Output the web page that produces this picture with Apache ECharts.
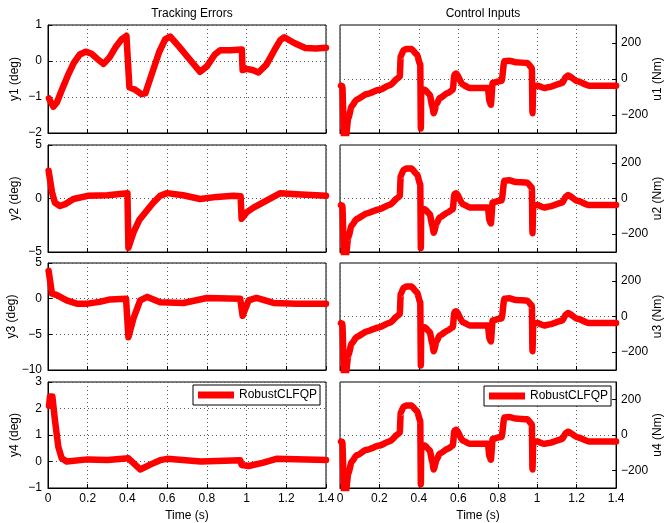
<!DOCTYPE html>
<html>
<head>
<meta charset="utf-8">
<script src="https://cdn.jsdelivr.net/npm/echarts@6/dist/echarts.min.js"></script>
<style>
  html, body { margin: 0; background: #fff; }
  #main { width: 665px; height: 523px; }
</style>
</head>
<body>
<div id="main"></div>
<script>
// tracking errors (deg)
const tY1 = [0.005, 0.027, 0.045, 0.07, 0.1, 0.13, 0.16, 0.19, 0.22, 0.25, 0.28, 0.31, 0.34, 0.37, 0.395, 0.405, 0.41, 0.44, 0.47, 0.49, 0.52, 0.56, 0.59, 0.615, 0.66, 0.72, 0.766, 0.8, 0.84, 0.867, 0.92, 0.976, 0.98, 1.0, 1.03, 1.06, 1.1, 1.14, 1.17, 1.19, 1.24, 1.296, 1.35, 1.4];
const y1 = [-1.04, -1.27, -1.15, -0.8, -0.4, -0.05, 0.18, 0.26, 0.2, 0.05, -0.08, 0.1, 0.38, 0.6, 0.7, 0.72, -0.73, -0.8, -0.92, -0.9, -0.4, 0.25, 0.6, 0.68, 0.4, 0.0, -0.3, -0.15, 0.18, 0.3, 0.3, 0.32, -0.25, -0.22, -0.25, -0.32, -0.1, 0.3, 0.58, 0.66, 0.5, 0.36, 0.35, 0.37];

const tY2 = [0.003, 0.02, 0.035, 0.06, 0.09, 0.128, 0.2, 0.3, 0.4, 0.405, 0.43, 0.46, 0.497, 0.53, 0.565, 0.6, 0.68, 0.766, 0.85, 0.934, 0.97, 0.975, 1.0, 1.035, 1.1, 1.17, 1.25, 1.4];
const y2 = [2.6, 0.6, -0.4, -0.7, -0.5, -0.05, 0.25, 0.3, 0.5, -4.6, -3.2, -2.0, -1.15, -0.4, 0.25, 0.5, 0.3, -0.05, 0.15, 0.25, 0.2, -1.9, -1.3, -0.85, -0.2, 0.5, 0.4, 0.25];

const tY3 = [0.003, 0.01, 0.02, 0.04, 0.094, 0.145, 0.2, 0.26, 0.313, 0.393, 0.405, 0.41, 0.43, 0.464, 0.5, 0.565, 0.682, 0.8, 0.968, 0.98, 1.01, 1.05, 1.136, 1.25, 1.4];
const y3 = [3.9, 2.6, 0.7, 0.55, -0.25, -0.7, -0.7, -0.45, -0.1, 0, -5.4, -5.6, -2.8, -0.25, 0.25, -0.5, -0.6, 0.1, 0, -2.4, -0.25, 0.1, -0.6, -0.7, -0.7];

const tY4 = [0.005, 0.01, 0.022, 0.035, 0.052, 0.069, 0.094, 0.2, 0.3, 0.405, 0.464, 0.52, 0.565, 0.6, 0.77, 0.968, 0.975, 1.01, 1.08, 1.15, 1.4];
const y4 = [2.1, 2.45, 2.45, 1.55, 0.55, 0.12, 0, 0.08, 0.06, 0.12, -0.3, -0.1, 0.05, 0.1, 0, 0.05, -0.13, -0.17, -0.05, 0.1, 0.06];

// control inputs (Nm)
const tU = [0.005, 0.012, 0.02, 0.03, 0.042, 0.059, 0.084, 0.135, 0.2, 0.252, 0.295, 0.303, 0.308, 0.322, 0.337, 0.362, 0.39, 0.407, 0.41, 0.412, 0.43, 0.455, 0.468, 0.475, 0.49, 0.505, 0.547, 0.572, 0.58, 0.589, 0.623, 0.657, 0.75, 0.758, 0.765, 0.774, 0.808, 0.82, 0.833, 0.859, 0.89, 0.95, 0.973, 0.976, 0.98, 1.0, 1.035, 1.06, 1.128, 1.145, 1.157, 1.204, 1.263, 1.4];
const u1 = [-37, -40, -320, -320, -218, -152, -115, -84, -60, -35, 5, 15, 126, 160, 167, 167, 136, 80, -275, -60, -60, -87, -150, -190, -140, -106, -78, -60, 24, 30, -32, -50, -50, -125, -143, -22, -13, -10, 99, 102, 93, 89, 61, -190, -40, -37, -50, -45, -22, 11, 19, -13, -37, -37];
const u2 = [-37, -40, -320, -320, -218, -152, -115, -84, -60, -35, 5, 15, 126, 160, 168, 168, 136, 80, -278, -60, -60, -87, -150, -192, -140, -106, -78, -60, 24, 30, -32, -50, -50, -125, -140, -22, -13, -10, 99, 102, 93, 89, 61, -195, -40, -37, -50, -45, -22, 11, 19, -13, -37, -37];
const u3 = [-37, -40, -320, -320, -218, -152, -115, -84, -60, -35, 5, 15, 126, 160, 168, 168, 136, 80, -275, -60, -60, -87, -150, -195, -140, -106, -78, -60, 24, 30, -32, -50, -50, -125, -140, -22, -13, -10, 99, 102, 93, 89, 61, -195, -40, -37, -50, -45, -22, 11, 19, -13, -37, -37];
const u4 = [-37, -40, -320, -320, -218, -152, -115, -84, -60, -35, 5, 15, 126, 160, 167, 167, 136, 80, -280, -60, -60, -87, -150, -195, -140, -106, -78, -60, 24, 30, -32, -50, -50, -125, -140, -22, -13, -10, 99, 102, 93, 89, 61, -195, -40, -37, -50, -45, -22, 11, 19, -13, -37, -37];

const timeTicks = { min: 0, max: 1.4, interval: 0.2 };
const yRanges = [[-2, 1, 1], [-5, 5, 5], [-10, 5, 5], [-1, 3, 1]];
const uTickValues = [-200, 0, 200];

const font = 'Liberation Sans, Arial, Helvetica, sans-serif';
const fs = 12;
const minus = v => String(v).replace('-', '\u2212');
const zip = (t, v) => t.map((x, i) => [x, v[i]]);

const rowTops = [25, 145, 263, 382];
const rowHeights = [108, 107, 107, 106];

let grid = [], xAxis = [], yAxis = [], series = [];
const ySeries = [[tY1, y1], [tY2, y2], [tY3, y3], [tY4, y4]];
const uSeries = [u1, u2, u3, u4];

const lineStyle = { color: '#ff0000', width: 6.5, cap: 'round', join: 'round' };
const gridLine = { show: true, lineStyle: { color: '#555', type: [1, 3], width: 1 } };

for (let r = 0; r < 4; r++) {
  const bottomRow = r === 3;
  for (let c = 0; c < 2; c++) {
    const idx = r * 2 + c;
    grid.push({
      left: c === 0 ? 48 : 340,
      width: c === 0 ? 278 : 277,
      top: rowTops[r],
      height: rowHeights[r],
      show: true,
      borderColor: '#000',
      borderWidth: 1,
      backgroundColor: '#fff'
    });
    xAxis.push({
      type: 'value',
      gridIndex: idx,
      min: timeTicks.min, max: timeTicks.max, interval: timeTicks.interval,
      name: bottomRow ? 'Time (s)' : '',
      nameLocation: 'middle',
      nameGap: 22,
      nameTextStyle: { color: '#000', fontSize: fs, fontFamily: font },
      axisLine: { onZero: false, lineStyle: { color: '#000' } },
      axisTick: { inside: true, length: 4, lineStyle: { color: '#000' } },
      axisLabel: { show: bottomRow, color: '#000', fontSize: fs, fontFamily: font, margin: 5 },
      splitLine: gridLine
    });
    if (c === 0) {
      const [mn, mx, step] = yRanges[r];
      yAxis.push({
        type: 'value',
        gridIndex: idx,
        min: mn, max: mx, interval: step,
        name: 'y' + (r + 1) + ' (deg)',
        nameLocation: 'middle',
        nameGap: 27,
        nameTextStyle: { color: '#000', fontSize: fs, fontFamily: font },
        axisLine: { onZero: false, lineStyle: { color: '#000' } },
        axisTick: { inside: true, length: 4, lineStyle: { color: '#000' } },
        axisLabel: { color: '#000', fontSize: fs, fontFamily: font, margin: 6, formatter: minus },
        splitLine: gridLine
      });
      series.push({
        name: 'RobustCLFQP', type: 'line', xAxisIndex: idx, yAxisIndex: idx,
        data: zip(ySeries[r][0], ySeries[r][1]),
        showSymbol: false, symbol: 'none',
        lineStyle: lineStyle,
        itemStyle: { color: '#ff0000' }
      });
    } else {
      yAxis.push({
        type: 'value',
        gridIndex: idx,
        position: 'right',
        min: -300, max: 300, interval: 100,
        name: 'u' + (r + 1) + ' (Nm)',
        nameLocation: 'middle',
        nameGap: 32,
        nameTextStyle: { color: '#000', fontSize: fs, fontFamily: font },
        axisLine: { onZero: false, lineStyle: { color: '#000' } },
        axisTick: { inside: true, length: 4, customValues: uTickValues, lineStyle: { color: '#000' } },
        axisLabel: { color: '#000', fontSize: fs, fontFamily: font, margin: 5, customValues: uTickValues,
          formatter: v => (v % 200 === 0 && Math.abs(v) < 300) ? minus(v) : '' },
        splitLine: { show: true, lineStyle: { color: ['rgba(0,0,0,0)', '#555'], type: [1, 3], width: 1 } }
      });
      series.push({
        name: 'RobustCLFQP', type: 'line', xAxisIndex: idx, yAxisIndex: idx,
        data: zip(tU, uSeries[r]),
        showSymbol: false, symbol: 'none',
        smooth: 0.2, smoothMonotone: 'x',
        lineStyle: lineStyle,
        itemStyle: { color: '#ff0000' }
      });
    }
  }
}

const legendBase = {
  data: ['RobustCLFQP'],
  orient: 'vertical',
  backgroundColor: '#fff',
  borderColor: '#000',
  borderWidth: 1,
  borderRadius: 0,
  padding: [4, 3, 4, 5],
  icon: 'rect',
  itemWidth: 36,
  itemHeight: 7,
  itemGap: 0,
  selectedMode: false,
  textStyle: { color: '#000', fontSize: fs, fontFamily: font }
};

const chart = echarts.init(document.getElementById('main'), null, { renderer: 'canvas' });
chart.setOption({
  animation: false,
  backgroundColor: '#fff',
  title: [
    { text: 'Tracking Errors', left: 187, top: 3, textAlign: 'center',
      textStyle: { color: '#000', fontSize: fs, fontWeight: 'normal', fontFamily: font } },
    { text: 'Control Inputs', left: 478, top: 3, textAlign: 'center',
      textStyle: { color: '#000', fontSize: fs, fontWeight: 'normal', fontFamily: font } }
  ],
  legend: [
    Object.assign({}, legendBase, { left: 193, top: 385 }),
    Object.assign({}, legendBase, { left: 484, top: 386 })
  ],
  grid: grid,
  xAxis: xAxis,
  yAxis: yAxis,
  series: series
});
</script>
</body>
</html>
